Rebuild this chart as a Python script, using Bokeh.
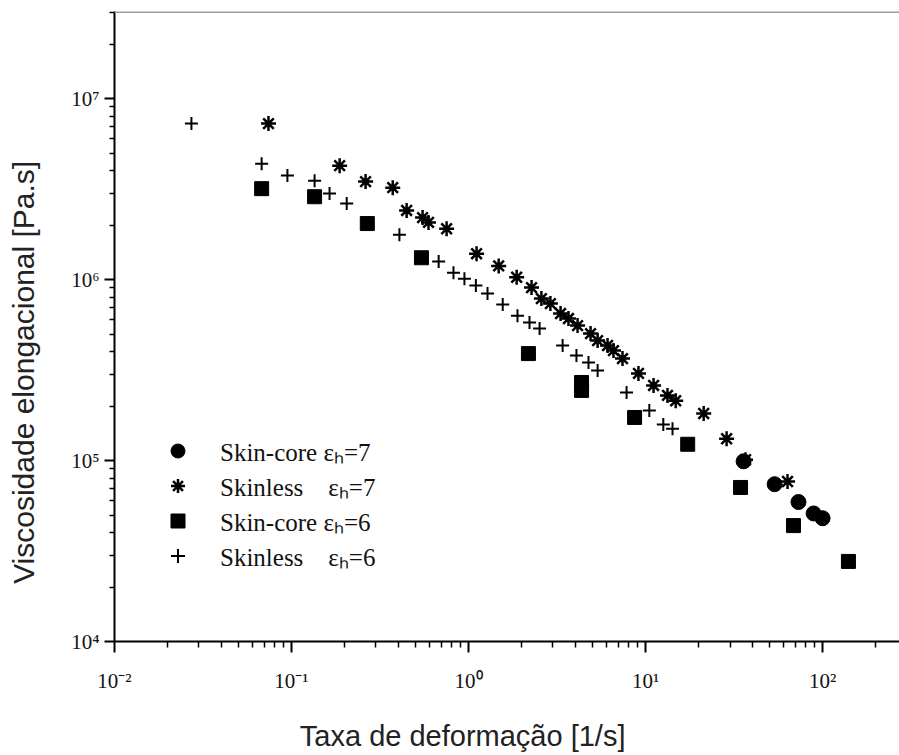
from bokeh.plotting import figure
from bokeh.models import Range1d, FixedTicker, Legend, LegendItem, Span
from bokeh.embed import file_html
from bokeh.resources import INLINE

# ---------------- data ----------------
SKINCORE7_X = [35.8, 53.6, 73.1, 89.0, 100.0]
SKINCORE7_Y = [9.9e4, 7.4e4, 5.9e4, 5.1e4, 4.8e4]

SKINLESS7_X = [0.0741, 0.187, 0.262, 0.373, 0.447, 0.550, 0.594, 0.752, 1.11, 1.48,
               1.87, 2.27, 2.58, 2.90, 3.31, 3.67, 4.13, 4.89, 5.36, 6.10,
               6.59, 7.41, 9.12, 11.1, 13.3, 14.8, 21.3, 28.7, 36.7, 63.4]
SKINLESS7_Y = [7.28e6, 4.26e6, 3.48e6, 3.22e6, 2.41e6, 2.20e6, 2.07e6, 1.91e6, 1.39e6, 1.19e6,
               1.03e6, 9.03e5, 7.85e5, 7.37e5, 6.49e5, 6.09e5, 5.57e5, 5.03e5, 4.60e5, 4.32e5,
               4.05e5, 3.66e5, 3.03e5, 2.60e5, 2.29e5, 2.14e5, 1.82e5, 1.32e5, 1.01e5, 7.66e4]

SKINCORE6_X = [0.0678, 0.135, 0.268, 0.542, 2.18, 4.35, 4.35, 8.67, 17.3, 34.4, 68.5, 140.0]
SKINCORE6_Y = [3.18e6, 2.87e6, 2.04e6, 1.32e6, 3.90e5, 2.70e5, 2.44e5, 1.73e5, 1.23e5, 7.10e4, 4.37e4, 2.77e4]

SKINLESS6_X = [0.0272, 0.0678, 0.0948, 0.135, 0.164, 0.205, 0.407, 0.678, 0.822, 0.948,
               1.10, 1.28, 1.56, 1.89, 2.21, 2.52, 3.40, 4.07, 4.76, 5.36,
               7.81, 10.5, 12.6, 14.2]
SKINLESS6_Y = [7.28e6, 4.37e6, 3.76e6, 3.52e6, 2.99e6, 2.63e6, 1.77e6, 1.26e6, 1.09e6, 1.01e6,
               9.27e5, 8.37e5, 7.28e5, 6.32e5, 5.79e5, 5.36e5, 4.32e5, 3.80e5, 3.48e5, 3.14e5,
               2.38e5, 1.89e5, 1.58e5, 1.50e5]

LEGEND_LABELS = ["Skin-core ε\u2095=7",
                 "Skinless\u00a0\u00a0\u00a0\u00a0ε\u2095=7",
                 "Skin-core ε\u2095=6",
                 "Skinless\u00a0\u00a0\u00a0\u00a0ε\u2095=6"]

X_TICKS = [0.01, 0.1, 1, 10, 100]
X_TICK_LABELS = ["10⁻²", "10⁻¹", "10⁰", "10¹", "10²"]
Y_TICKS = [1e4, 1e5, 1e6, 1e7]
Y_TICK_LABELS = ["10⁴", "10⁵", "10⁶", "10⁷"]

X_TITLE = "Taxa de deformação [1/s]"
Y_TITLE = "Viscosidade elongacional [Pa.s]"

X_MIN, X_MAX = 0.01, 272.0
Y_MIN, Y_MAX = 1e4, 3.03e7

# ---------------- figure ----------------
p = figure(width=899, height=755, x_axis_type="log", y_axis_type="log",
           x_range=Range1d(X_MIN, X_MAX), y_range=Range1d(Y_MIN, Y_MAX),
           output_backend="svg", toolbar_location=None,
           min_border_left=114, min_border_right=0, min_border_top=11, min_border_bottom=114)
p.background_fill_color = "white"
p.border_fill_color = "white"
p.outline_line_color = None
p.xgrid.visible = False
p.ygrid.visible = False


def minor_ticks(majors):
    out = []
    for m in majors:
        for k in range(2, 10):
            out.append(m * k)
    return out


p.xaxis.ticker = FixedTicker(ticks=X_TICKS, minor_ticks=minor_ticks(X_TICKS))
p.yaxis.ticker = FixedTicker(ticks=Y_TICKS, minor_ticks=minor_ticks(Y_TICKS))
p.xaxis.major_label_overrides = {t: l for t, l in zip(X_TICKS, X_TICK_LABELS)}
p.yaxis.major_label_overrides = {t: l for t, l in zip(Y_TICKS, Y_TICK_LABELS)}

for ax in (p.xaxis[0], p.yaxis[0]):
    ax.axis_line_color = "black"
    ax.axis_line_width = 2
    ax.major_tick_line_color = "black"
    ax.minor_tick_line_color = "black"
    ax.major_tick_line_width = 2
    ax.minor_tick_line_width = 1.5
    ax.major_tick_in = 0
    ax.minor_tick_in = 0
    ax.major_label_text_font = "Liberation Serif"
    ax.major_label_text_font_size = "21px"
    ax.major_label_text_color = "#111111"
    ax.axis_label_text_font = "Liberation Sans"
    ax.axis_label_text_font_style = "normal"
    ax.axis_label_text_color = "#222222"

p.xaxis.major_tick_out = 11
p.xaxis.minor_tick_out = 6
p.xaxis.major_label_standoff = 16
p.yaxis.major_tick_out = 10
p.yaxis.minor_tick_out = 5
p.yaxis.major_label_standoff = 5

# axis titles (trailing no-break spaces shift the centred title like in the reference)
p.xaxis.axis_label = X_TITLE + "\u00a0" * 11
p.xaxis.axis_label_text_font_size = "29px"
p.xaxis.axis_label_standoff = 24
p.yaxis.axis_label = Y_TITLE + "\u00a0" * 11
p.yaxis.axis_label_text_font_size = "30px"
p.yaxis.axis_label_standoff = 28

# top border line (grey)
p.add_layout(Span(location=Y_MAX, dimension="width", line_color="#9c9c9c", line_width=3))

# ---------------- data glyphs ----------------
r_sq = p.scatter(SKINCORE6_X, SKINCORE6_Y, marker="square", size=14,
                 fill_color="black", line_color="black")
r_ci = p.scatter(SKINCORE7_X, SKINCORE7_Y, marker="circle", size=15,
                 fill_color="black", line_color="black")
r_st = p.scatter(SKINLESS7_X, SKINLESS7_Y, marker="asterisk", size=15,
                 line_color="black", line_width=2.5)
r_pl = p.scatter(SKINLESS6_X, SKINLESS6_Y, marker="cross", size=13,
                 line_color="black", line_width=2)

legend = Legend(items=[
    LegendItem(label=LEGEND_LABELS[0], renderers=[r_ci]),
    LegendItem(label=LEGEND_LABELS[1], renderers=[r_st]),
    LegendItem(label=LEGEND_LABELS[2], renderers=[r_sq]),
    LegendItem(label=LEGEND_LABELS[3], renderers=[r_pl]),
], location=(46, 68))
legend.border_line_color = None
legend.background_fill_alpha = 0
legend.padding = 0
legend.margin = 0
legend.spacing = 0
legend.glyph_width = 35
legend.glyph_height = 35
legend.label_height = 35
legend.label_standoff = 25
legend.label_text_font = "Liberation Serif"
legend.label_text_font_size = "25px"
legend.label_text_color = "#111111"
p.add_layout(legend)

open("out.html", "w").write(file_html(p, INLINE))
